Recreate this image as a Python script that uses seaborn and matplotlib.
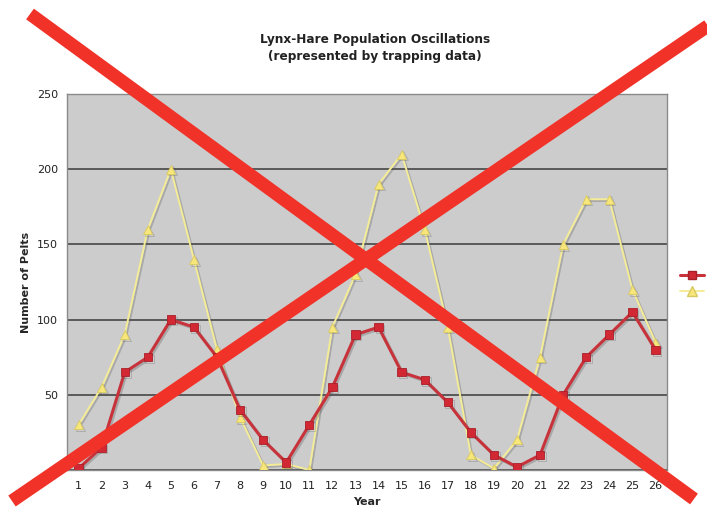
import matplotlib
matplotlib.use("Agg")
import matplotlib.pyplot as plt
import matplotlib.patheffects as pe
from matplotlib.lines import Line2D
import numpy as np
import pandas as pd
import seaborn as sns

years = list(range(1, 27))
lynx = [1, 15, 65, 75, 100, 95, 75, 40, 20, 5, 30, 55, 90, 95, 65, 60, 45, 25, 10, 2, 10, 50, 75, 90, 105, 80]
hare = [30, 55, 90, 160, 200, 140, 80, 35, 3, 4, 0, 95, 130, 190, 210, 160, 95, 10, 1, 20, 75, 150, 180, 180, 120, 85]
series_names = ["Lynx", "Hare"]
y_ticks = [0, 50, 100, 150, 200, 250]

df = pd.DataFrame({
    "Year": years * 2,
    "Pelts": lynx + hare,
    "Species": [series_names[0]] * len(years) + [series_names[1]] * len(years),
})

sns.set_theme(style="white")
plt.rcParams["font.family"] = ["DejaVu Sans"]

fig = plt.figure(figsize=(7.07, 5.08), dpi=100)
ax = fig.add_axes([67 / 707, 1 - 470 / 508, 600 / 707, 376 / 508])
ax.set_facecolor("#cccccc")

red_line = "#c8323a"
red_face = "#d12833"
yel_line = "#f4ec96"
yel_face = "#f7e67a"

shadow = [pe.SimpleLineShadow(offset=(1.2, -1.2), shadow_color="#555555", alpha=0.3),
          pe.Normal()]

sns.lineplot(data=df[df.Species == "Hare"], x="Year", y="Pelts", ax=ax,
             color=yel_line, lw=1.4, marker="^", markersize=6.5,
             markerfacecolor=yel_face, markeredgecolor="#d8c860", markeredgewidth=0.6,
             path_effects=shadow, zorder=3)
sns.lineplot(data=df[df.Species == "Lynx"], x="Year", y="Pelts", ax=ax,
             color=red_line, lw=2.2, marker="s", markersize=6,
             markerfacecolor=red_face, markeredgecolor="#a8202a", markeredgewidth=0.6,
             path_effects=shadow, zorder=4)

ax.set_xlim(0.5, 26.5)
ax.set_ylim(0, 250)
ax.set_yticks(y_ticks)
ax.set_xticks(years)
ax.set_xticklabels([str(y) for y in years])
ax.set_xticks(np.arange(0.5, 27, 1), minor=True)
ax.yaxis.grid(True, color="#3a3a3a", lw=1.1)
ax.xaxis.grid(False)
ax.set_axisbelow(True)

ax.tick_params(axis="x", which="major", length=0, pad=8, labelsize=8, colors="#222222")
ax.tick_params(axis="x", which="minor", length=4, width=0.8, color="#999999", direction="out")
ax.tick_params(axis="y", which="major", length=5, width=1.1, color="#3a3a3a", direction="out",
               pad=1.5, labelsize=8, labelcolor="#222222")

for side in ["left", "top", "right", "bottom"]:
    ax.spines[side].set_visible(True)
    ax.spines[side].set_color("#8a8a8a")
    ax.spines[side].set_linewidth(1.0)

ax.set_xlabel("Year", fontsize=8, fontweight="bold", labelpad=4)
ax.set_ylabel("Number of Pelts", fontsize=8, fontweight="bold", labelpad=4)
if ax.get_legend() is not None:
    ax.get_legend().remove()

fig.text(375 / 707, 1 - 48 / 508, "Lynx-Hare Population Oscillations\n(represented by trapping data)",
         ha="center", va="center", fontsize=8.7, fontweight="bold", color="#222222",
         linespacing=1.45)

# legend keys sit at the right edge; their labels fall outside the canvas
handles = [
    Line2D([], [], color=red_line, lw=2.2, marker="s", markersize=6,
           markerfacecolor=red_face, markeredgecolor="#a8202a"),
    Line2D([], [], color=yel_line, lw=1.4, marker="^", markersize=6.5,
           markerfacecolor=yel_face, markeredgecolor="#d8c860"),
]
fig.legend(handles, ["", ""], loc="upper left", bbox_to_anchor=(674 / 707, 1 - 265 / 508),
           frameon=False, fontsize=8, handlelength=2.2, labelspacing=0.55, borderpad=0)

# big red cross over the figure
cross = dict(color="#f03228", lw=9.5, solid_capstyle="butt", transform=None, zorder=10)
H = 508
fig.add_artist(Line2D([30, 694], [H - 14, H - 499], **cross))
fig.add_artist(Line2D([12, 718], [H - 501, H - 19], **cross))

fig.savefig("out.png", dpi=100)
